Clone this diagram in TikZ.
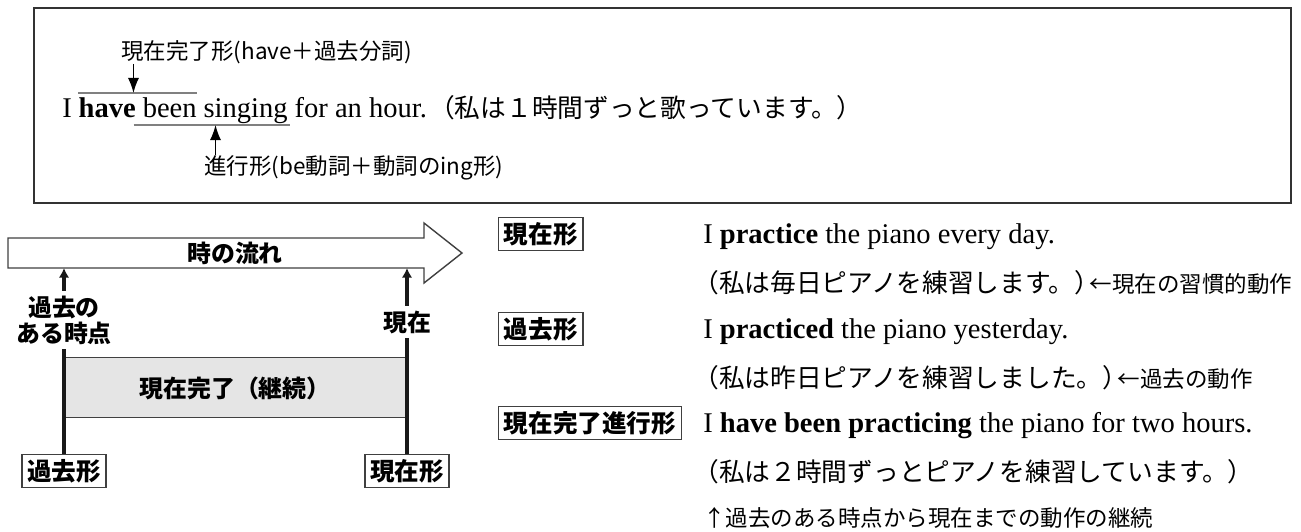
\documentclass[tikz,border=0pt]{standalone}
\usepackage{fontspec}
\setmainfont{Liberation Serif}
\newfontfamily\jpsans{Noto Sans CJK JP}
\usetikzlibrary{positioning,arrows.meta,calc}

\begin{document}
\begin{tikzpicture}
  [x=0.25mm, y=-0.25mm,
   en/.style={font=\fontsize{20.3pt}{24pt}\selectfont, inner sep=0pt},
   jp/.style={font=\jpsans\fontsize{18.3pt}{24pt}\selectfont, inner sep=0pt},
   note/.style={font=\jpsans\fontsize{16pt}{20pt}\selectfont, inner sep=0pt},
   tag/.style={font=\jpsans\bfseries\fontsize{17pt}{18.5pt}\selectfont, align=center,
     inner sep=0pt, outer sep=1.2mm},
   formbox/.style={draw=black!75, line width=0.35mm, fill=white,
     font=\jpsans\bfseries\fontsize{17.5pt}{20pt}\selectfont,
     inner xsep=1.3mm, inner ysep=0pt, minimum height=8.25mm},
   wordline/.style={draw=black!50, line width=0.5mm},
   pointer/.style={line width=0.35mm, -{Latex[length=3.8mm, width=2.8mm]}},
   timeline/.style={line width=1mm, color=black!90},
   timehead/.style={-{Latex[length=2.4mm, width=2.6mm]}}]

  \useasboundingbox (0,0) rectangle (1301,532);

  % example sentence
  \draw [line width=0.45mm, color=black!80] (34,8) rectangle (1291,203);

  \node [en, anchor=base west] (wI) at (62,117) {I};
  \node [en, base right=1.6mm of wI] (wHave) {\textbf{have}};
  \node [en, base right=1.6mm of wHave] (wBeen) {been};
  \node [en, base right=1.6mm of wBeen] (wSinging) {singing};
  \node [en, base right=1.6mm of wSinging] (wRest) {for an hour.};
  \node [jp, base right=0.4mm of wRest] (jaSing) {（私は１時間ずっと歌っています。）};

  \coordinate (olStart) at ($ (wHave.base west)+(0,-24) $);
  \coordinate (olEnd) at ($ (wBeen.base east)+(0,-24) $);
  \coordinate (olMark) at ($ (olStart)+(55,0) $);
  \draw [wordline] (olStart) -- (olEnd);

  \coordinate (ulStart) at ($ (wBeen.base west)+(-9,8) $);
  \coordinate (ulEnd) at ($ (wSinging.base east)+(2,8) $);
  \coordinate (ulMark) at ($ (ulStart)+(82,0) $);
  \draw [wordline] (ulStart) -- (ulEnd);

  \node [note, anchor=west] (perfLabel) at (121,52) {現在完了形(have＋過去分詞)};
  \node [note, anchor=west] (progLabel) at (204,168) {進行形(be動詞＋動詞のing形)};
  \draw [pointer] (perfLabel.south -| olMark) -- (olMark);
  \draw [pointer] (progLabel.north -| ulMark) -- (ulMark);

  % time line
  \draw [line width=0.35mm, color=black!75, fill=white]
    (8,238) -- (424,238) -- (424,223) -- (462,253) -- (424,283) -- (424,268) -- (8,268) -- cycle;
  \node [tag] (flow) at (235,253) {時の流れ};
  \coordinate (flowPast) at (64,268);
  \coordinate (flowNow) at (407,268);

  \draw [line width=0.25mm, draw=black!75, fill=black!10] (64,357) rectangle (407,417);
  \node [tag] (perfCont) at (235,388) {現在完了（継続）};

  \node [tag] (pastPoint) at (64,320) {過去の\\ある時点};
  \node [tag] (nowPoint) at (407,322) {現在};
  \node [formbox] (pastBox) at (64,471) {過去形};
  \node [formbox] (nowBox) at (407,471) {現在形};

  \draw [timeline, timehead] (pastPoint) -- (flowPast);
  \draw [timeline, timehead] (nowPoint) -- (flowNow);
  \draw [timeline] (pastPoint) -- (pastBox);
  \draw [timeline] (nowPoint) -- (nowBox);

  % three forms
  \node [formbox, anchor=north west] (presentTag) at (498,217) {現在形};
  \node [formbox, anchor=north west] (pastTag) at (498,312) {過去形};
  \node [formbox, anchor=north west] (progTag) at (498,406) {現在完了進行形};

  \node [en, anchor=base west] (exPresent) at (703,243) {I \textbf{practice} the piano every day.};
  \node [jp, anchor=west] (jaPresent) at (693,283) {（私は毎日ピアノを練習します。）};
  \node [note, anchor=base west] (notePresent) at ($ (jaPresent.base east)+(-11,0) $) {←現在の習慣的動作};

  \node [en, anchor=base west] (exPast) at (703,338) {I \textbf{practiced} the piano yesterday.};
  \node [jp, anchor=west] (jaPast) at (693,378) {（私は昨日ピアノを練習しました。）};
  \node [note, anchor=base west] (notePast) at ($ (jaPast.base east)+(-11,0) $) {←過去の動作};

  \node [en, anchor=base west] (exProg) at (703,432) {I \textbf{have been practicing} the piano for two hours.};
  \node [jp, anchor=west] (jaProg) at (693,472) {（私は２時間ずっとピアノを練習しています。）};
  \node [note, anchor=west] (noteProg) at (703,518) {↑過去のある時点から現在までの動作の継続};

\end{tikzpicture}
\end{document}
